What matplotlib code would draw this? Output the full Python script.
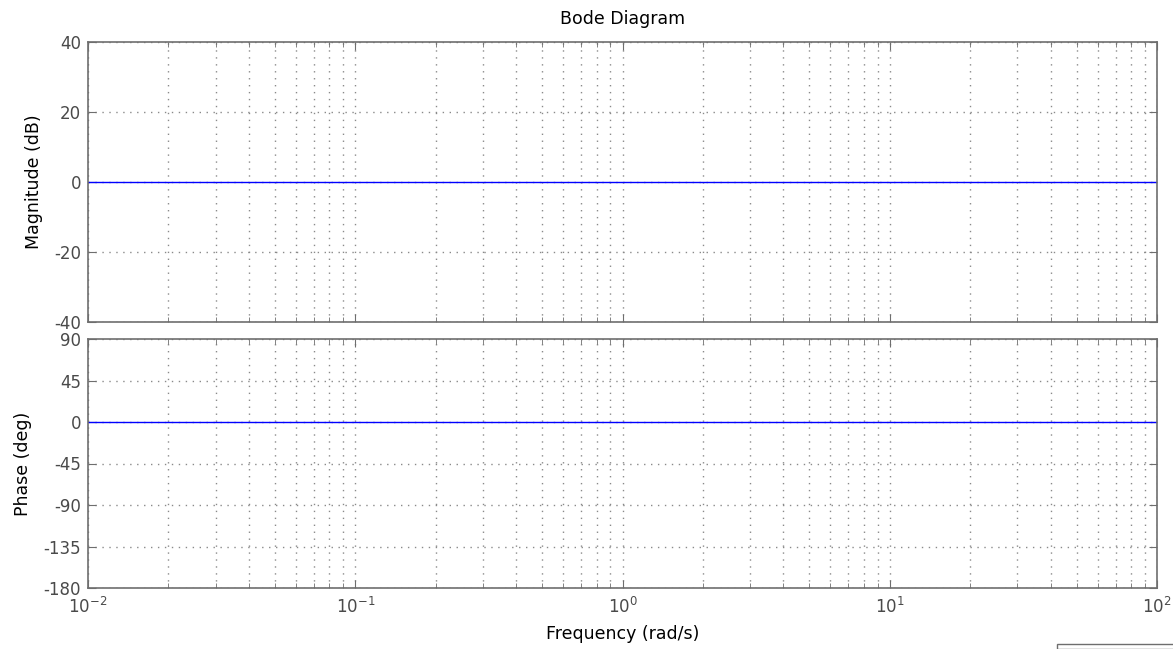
import numpy as np
from matplotlib import pyplot as plt
from matplotlib.ticker import LogLocator, FixedLocator

# bode data of a unity transfer function
freq = [1e-2, 1e-1, 1e0, 1e1, 1e2]
mag_db = [0, 0, 0, 0, 0]
phase_deg = [0, 0, 0, 0, 0]

mag_ticks = [-40, -20, 0, 20, 40]
phase_ticks = [-180, -135, -90, -45, 0, 45, 90]

plt.rcParams['font.family'] = ['DejaVu Sans']
plt.rcParams['mathtext.fontset'] = 'dejavusans'
plt.rcParams['axes.unicode_minus'] = False

W, H = 1173, 649
fig = plt.figure(figsize=(W/100, H/100), dpi=100)
fig.patch.set_facecolor('white')

left = 88/W
width = (1157-88)/W
ax1 = fig.add_axes([left, 1-322/H, width, 280/H])
ax2 = fig.add_axes([left, 1-588/H, width, 249/H])

edge = '#6e6e6e'
txt = '#4a4a4a'

for ax in (ax1, ax2):
    ax.set_xscale('log')
    ax.set_xlim(1e-2, 1e2)
    ax.xaxis.set_major_locator(LogLocator(base=10, numticks=10))
    ax.xaxis.set_minor_locator(LogLocator(base=10, subs=np.arange(2, 10), numticks=10))
    ax.grid(True, which='major', axis='both', color='#8a8a8a', linestyle=(0, (1, 4)), linewidth=1.0)
    ax.grid(True, which='minor', axis='x', color='#8a8a8a', linestyle=(0, (1, 4)), linewidth=1.0)
    ax.tick_params(which='both', direction='in', top=True, right=True,
                   colors=edge, labelcolor=txt, labelsize=12)
    ax.tick_params(which='major', length=6)
    ax.tick_params(which='minor', length=3.5)
    ax.tick_params(axis='y', pad=5)
    for s in ax.spines.values():
        s.set_color(edge)
        s.set_linewidth(1.2)

ax1.plot(freq, mag_db, color='#0000ff', linewidth=1.0)
ax1.set_ylim(-40, 40)
ax1.yaxis.set_major_locator(FixedLocator(mag_ticks))
ax1.tick_params(which='both', labelbottom=False)
ax1.set_ylabel('Magnitude (dB)', fontsize=12.5, color='#000000', labelpad=8)
ax1.set_title('Bode Diagram', fontsize=12.5, color='#000000', pad=13)

ax2.plot(freq, phase_deg, color='#0000ff', linewidth=1.0)
ax2.set_ylim(-180, 90)
ax2.yaxis.set_major_locator(FixedLocator(phase_ticks))
ax2.tick_params(axis='x', pad=6.5)
ax2.set_ylabel('Phase (deg)', fontsize=12.5, color='#000000', labelpad=8)
ax2.set_xlabel('Frequency (rad/s)', fontsize=12.5, color='#000000', labelpad=6)

# partially visible box at lower right corner
fig.patches.append(plt.Rectangle((1057/W, 0), 1, 5/H, transform=fig.transFigure,
                                 facecolor='white', edgecolor=edge, linewidth=1.0))

fig.savefig('out.png', dpi=100)
